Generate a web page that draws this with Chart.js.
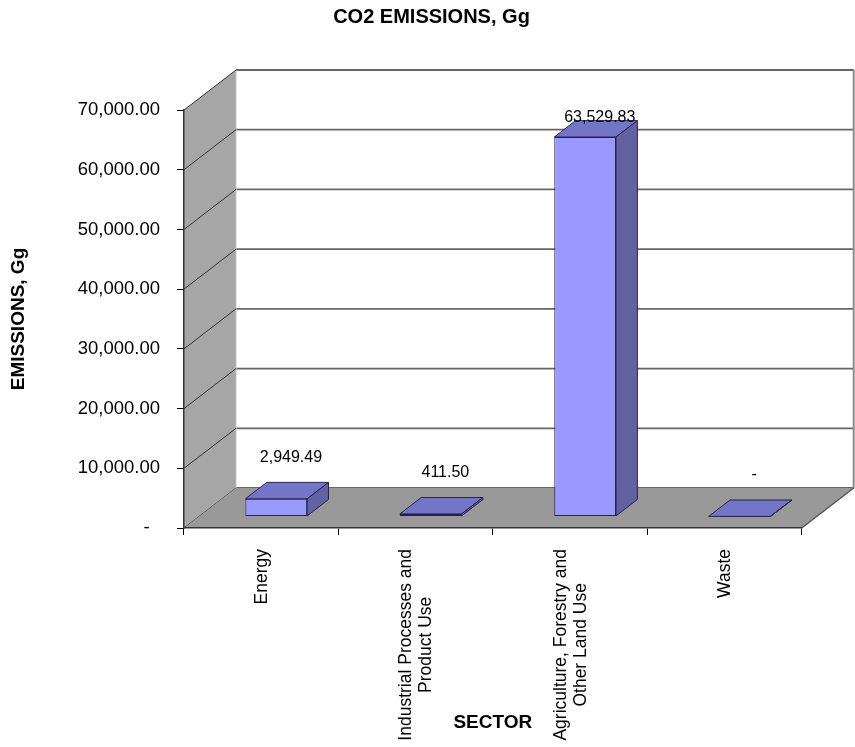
<!DOCTYPE html>
<html>
<head>
<meta charset="utf-8">
<script src="https://cdn.jsdelivr.net/npm/chart.js@4/dist/chart.umd.min.js"></script>
<style>
  html, body { margin: 0; padding: 0; background: #fff; }
  #wrap { width: 855px; height: 747px; }
</style>
</head>
<body>
<div id="wrap"><canvas id="c" width="855" height="747"></canvas></div>
<script>
// Sectors (multi-line category names) and CO2 emissions in Gg
const sectors = [
  ['Energy'],
  ['Industrial Processes and', 'Product Use'],
  ['Agriculture, Forestry and', 'Other Land Use'],
  ['Waste']
];
const co2Gg = [2949.49, 411.50, 63529.83, 0];
const yTickValues = [0, 10000, 20000, 30000, 40000, 50000, 60000, 70000];

const FONT = '"Liberation Sans", Arial, Helvetica, sans-serif';

// Depth of the 3D box (floor / side wall) and the slab occupied by the bars
const DX = 52, DY = -40;
const F0 = 0.29, F1 = 0.70;

const fmt = v => v === 0 ? '-' :
  v.toLocaleString('en-US', { minimumFractionDigits: 2, maximumFractionDigits: 2 });

function poly(ctx, pts, fill, stroke, lw) {
  ctx.beginPath();
  ctx.moveTo(pts[0][0], pts[0][1]);
  for (let i = 1; i < pts.length; i++) ctx.lineTo(pts[i][0], pts[i][1]);
  ctx.closePath();
  if (fill) { ctx.fillStyle = fill; ctx.fill(); }
  if (stroke) { ctx.strokeStyle = stroke; ctx.lineWidth = lw || 1; ctx.stroke(); }
}
function seg(ctx, x1, y1, x2, y2) {
  ctx.beginPath(); ctx.moveTo(x1, y1); ctx.lineTo(x2, y2); ctx.stroke();
}

const box3d = {
  id: 'box3d',
  beforeDraw(chart) {
    const { ctx, chartArea: a, scales: { y } } = chart;
    ctx.save();
    // back wall
    ctx.fillStyle = '#ffffff';
    ctx.fillRect(a.left + DX, a.top + DY, a.right - a.left, a.bottom - a.top);
    ctx.strokeStyle = '#666666';
    ctx.lineWidth = 1.8;
    yTickValues.forEach(v => {
      const py = y.getPixelForValue(v) + DY;
      seg(ctx, a.left + DX, py, a.right + DX, py);
    });
    ctx.strokeStyle = '#8c8c8c';
    ctx.lineWidth = 2;
    seg(ctx, a.right + DX, a.top + DY, a.right + DX, a.bottom + DY);

    // left side wall
    poly(ctx, [[a.left, a.top], [a.left + DX, a.top + DY],
               [a.left + DX, a.bottom + DY], [a.left, a.bottom]], '#a6a6a6');
    ctx.strokeStyle = '#c4c4c4';
    ctx.lineWidth = 1;
    seg(ctx, a.left + DX, a.top + DY, a.left + DX, a.bottom + DY);
    ctx.strokeStyle = '#333333';
    ctx.lineWidth = 1;
    yTickValues.forEach(v => {
      const py = y.getPixelForValue(v);
      seg(ctx, a.left, py, a.left + DX, py + DY);
    });

    // floor
    poly(ctx, [[a.left, a.bottom], [a.left + DX, a.bottom + DY],
               [a.right + DX, a.bottom + DY], [a.right, a.bottom]], '#999999');
    ctx.strokeStyle = '#555555';
    ctx.lineWidth = 1.5;
    seg(ctx, a.right, a.bottom, a.right + DX, a.bottom + DY);
    ctx.restore();
  },
  beforeDatasetsDraw(chart) {
    // front faces of the bars sit part-way into the depth of the floor
    chart.ctx.save();
    chart.ctx.translate(F0 * DX, F0 * DY);
  },
  afterDatasetsDraw(chart) {
    const ctx = chart.ctx;
    ctx.restore();
    const meta = chart.getDatasetMeta(0);
    const ddx = (F1 - F0) * DX, ddy = (F1 - F0) * DY;
    ctx.save();
    ctx.lineJoin = 'round';
    meta.data.forEach(bar => {
      const p = bar.getProps(['x', 'y', 'base', 'width'], true);
      const l = p.x - p.width / 2 + F0 * DX, r = p.x + p.width / 2 + F0 * DX;
      const t = p.y + F0 * DY, b = p.base + F0 * DY;
      poly(ctx, [[l, t], [l + ddx, t + ddy], [r + ddx, t + ddy], [r, t]], '#7575c8', '#23234a', 1);
      poly(ctx, [[r, t], [r + ddx, t + ddy], [r + ddx, b + ddy], [r, b]], '#6262a2', '#23234a', 1);
    });
    ctx.restore();
  },
  afterDraw(chart) {
    const { ctx, chartArea: a, scales: { x } } = chart;
    const meta = chart.getDatasetMeta(0);
    ctx.save();
    ctx.fillStyle = '#000';

    // chart title
    ctx.font = 'bold 20px ' + FONT;
    ctx.textAlign = 'center';
    ctx.textBaseline = 'middle';
    ctx.fillText('CO2 EMISSIONS, Gg', chart.width / 2 + 4, 17);

    // value labels above each bar
    ctx.font = '16px ' + FONT;
    meta.data.forEach((bar, i) => {
      const p = bar.getProps(['x', 'y'], true);
      const midX = p.x + (F0 + F1) / 2 * DX + 4;
      const backTop = p.y + F1 * DY;
      const ly = Math.max(backTop - 25, a.top + 8);
      ctx.fillText(fmt(co2Gg[i]), midX, ly);
    });

    // rotated category names, lines centred within each block
    ctx.font = '17.5px ' + FONT;
    sectors.forEach((lines, i) => {
      const cx = x.getPixelForValue(i) + 1;
      const maxW = Math.max(...lines.map(s => ctx.measureText(s).width));
      ctx.save();
      ctx.translate(cx, a.bottom + 21);
      ctx.rotate(-Math.PI / 2);
      ctx.textAlign = 'center';
      ctx.textBaseline = 'middle';
      lines.forEach((s, k) => ctx.fillText(s, -maxW / 2, (k - (lines.length - 1) / 2) * 20));
      ctx.restore();
    });
    ctx.restore();
  }
};

Chart.defaults.font.family = FONT;
Chart.defaults.color = '#000';

new Chart(document.getElementById('c'), {
  type: 'bar',
  data: {
    labels: sectors,
    datasets: [{
      data: co2Gg,
      backgroundColor: '#9999ff',
      borderColor: '#23234a',
      borderWidth: 1,
      borderSkipped: false,
      categoryPercentage: 1.0,
      barPercentage: 0.4,
      clip: false
    }]
  },
  options: {
    responsive: false,
    animation: false,
    devicePixelRatio: 1,
    layout: { padding: { top: 110, right: 53.3, bottom: 0, left: 0 } },
    plugins: { legend: { display: false }, tooltip: { enabled: false }, title: { display: false } },
    scales: {
      x: {
        grid: { drawOnChartArea: false, drawTicks: true, tickLength: 7, color: '#000', offset: true },
        border: { display: true, color: '#333', width: 1.5 },
        ticks: { display: false },
        title: {
          display: true, text: 'SECTOR',
          font: { size: 19, weight: 'bold' },
          padding: { top: 0, bottom: 12.6 }
        },
        afterFit(scale) { scale.height = 219; }
      },
      y: {
        min: 0, max: 70000,
        afterBuildTicks(scale) { scale.ticks = yTickValues.map(v => ({ value: v })); },
        grid: { drawOnChartArea: false, drawTicks: true, tickLength: 7, color: '#000' },
        border: { display: true, color: '#333', width: 1.5 },
        ticks: {
          padding: 17,
          font: { size: 18.5 },
          callback: v => v === 0 ? '-  ' : fmt(v)
        },
        title: {
          display: true, text: 'EMISSIONS, Gg',
          font: { size: 19, weight: 'bold' },
          padding: { top: 7, bottom: 0 }
        },
        afterFit(scale) { scale.width = 184; }
      }
    }
  },
  plugins: [box3d]
});
</script>
</body>
</html>
